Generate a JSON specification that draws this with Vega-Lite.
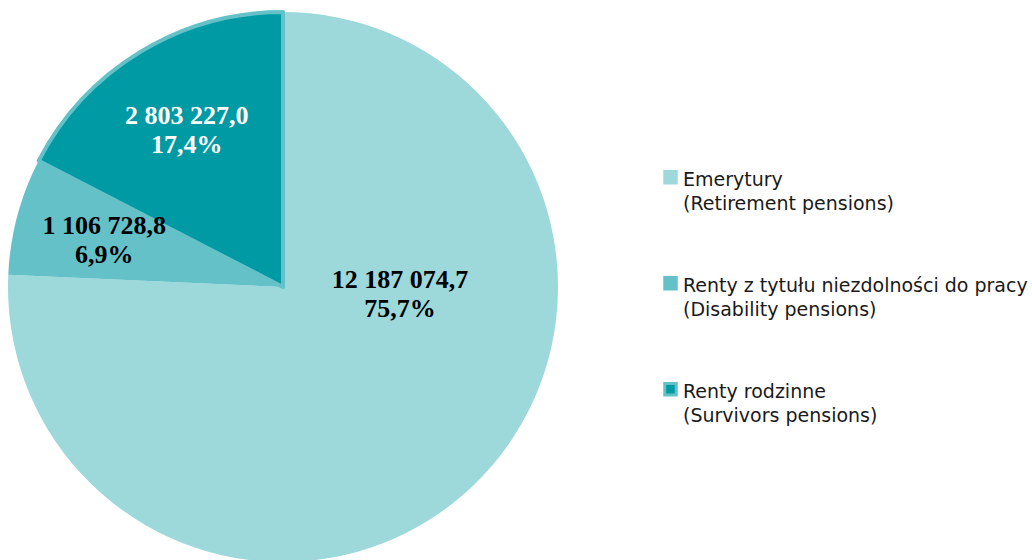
{
  "$schema": "https://vega.github.io/schema/vega-lite/v6.json",
  "width": 566,
  "height": 574,
  "autosize": {"type": "none"},
  "padding": {"left": 0, "top": 0, "right": 466, "bottom": 0},
  "background": "white",
  "view": {"stroke": null},
  "config": {"font": "DejaVu Sans", "style": {"guide-label": {"lineHeight": 24}}},
  "data": {
    "values": [
      {"cat": "Emerytury|(Retirement pensions)", "value": 12187074.7, "label": "12 187 074,7", "pct": "75,7%", "order": 1},
      {"cat": "Renty z tytułu niezdolności do pracy|(Disability pensions)", "value": 1106728.8, "label": "1 106 728,8", "pct": "6,9%", "order": 2},
      {"cat": "Renty rodzinne|(Survivors pensions)", "value": 2803227.0, "label": "2 803 227,0", "pct": "17,4%", "order": 3}
    ]
  },
  "transform": [{"calculate": "[datum.label, datum.pct]", "as": "txt"}],
  "encoding": {
    "theta": {"field": "value", "type": "quantitative", "stack": true},
    "order": {"field": "order", "type": "quantitative", "sort": "ascending"}
  },
  "layer": [
    {
      "mark": {"type": "arc", "outerRadius": 275, "strokeJoin": "round"},
      "encoding": {
        "color": {
          "field": "cat", "type": "nominal", "sort": null,
          "scale": {
            "domain": ["Emerytury|(Retirement pensions)", "Renty z tytułu niezdolności do pracy|(Disability pensions)", "Renty rodzinne|(Survivors pensions)"],
            "range": ["#9dd8db", "#64c1c8", "#009aa5"]
          },
          "legend": {
            "title": null,
            "orient": "none",
            "legendX": 661,
            "legendY": 161,
            "labelExpr": "split(datum.label, '|')",
            "labelFont": "DejaVu Sans",
            "labelFontSize": 19,
            "labelColor": "#1a1a1a",
            "labelBaseline": "top",
            "labelLimit": 400,
            "labelOffset": 3,
            "symbolType": "M-1,0.17H1V2.17H-1Z",
            "symbolSize": 132,
            "symbolStrokeWidth": 3,
            "rowPadding": 53
          }
        },
        "stroke": {
          "field": "cat", "type": "nominal", "sort": null,
          "scale": {
            "domain": ["Emerytury|(Retirement pensions)", "Renty z tytułu niezdolności do pracy|(Disability pensions)", "Renty rodzinne|(Survivors pensions)"],
            "range": ["#9dd8db", "#64c1c8", "#64c1c8"]
          }
        },
        "strokeWidth": {"condition": {"test": "datum.order == 3", "value": 4}, "value": 0}
      }
    },
    {
      "mark": {"type": "text", "radius": 185, "dy": -13, "font": "Liberation Serif", "fontWeight": "bold", "fontSize": 26, "lineHeight": 29, "align": "center", "baseline": "middle"},
      "encoding": {
        "text": {"field": "txt"},
        "fill": {"condition": {"test": "datum.order == 3", "value": "white"}, "value": "black"},
        "opacity": {"condition": {"test": "datum.order == 1", "value": 0}, "value": 1}
      }
    },
    {
      "mark": {"type": "text", "radius": 120, "dx": 34, "dy": -94, "font": "Liberation Serif", "fontWeight": "bold", "fontSize": 26, "lineHeight": 29, "align": "center", "baseline": "middle"},
      "encoding": {
        "text": {"field": "txt"},
        "fill": {"value": "black"},
        "opacity": {"condition": {"test": "datum.order == 1", "value": 1}, "value": 0}
      }
    }
  ]
}
